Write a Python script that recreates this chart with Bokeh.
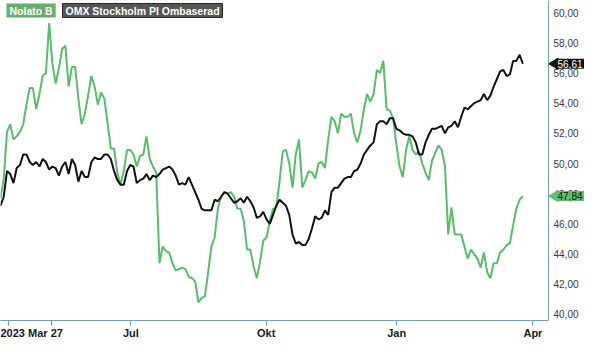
from math import pi
from bokeh.plotting import figure
from bokeh.models import Range1d, FixedTicker, Label, Span, LinearAxis
from bokeh.core.properties import value
from bokeh.embed import file_html
from bokeh.resources import INLINE

# Nolato B share price (SEK), one value per sample
nolato = [47.7, 49.0, 52.1, 52.6, 51.6, 51.8, 52.1, 52.6, 53.9, 55.0,
          55.0, 53.6, 54.6, 55.8, 56.0, 59.3, 56.6, 55.3, 56.3, 57.6,
          57.8, 55.1, 56.4, 56.4, 54.3, 52.6, 53.3, 54.5, 55.8, 55.1,
          53.9, 54.7, 54.3, 52.7, 51.0, 51.0, 49.4, 48.6, 49.5, 50.9,
          50.9, 50.6, 49.8, 50.5, 50.6, 51.8, 50.3, 49.8, 49.4, 43.4,
          44.5, 44.2, 44.1, 43.4, 42.9, 43.0, 43.1, 43.0, 42.5, 42.4,
          42.2, 40.8, 41.1, 41.2, 42.8, 44.5, 45.1, 47.0, 47.8, 48.1,
          48.0, 48.1, 47.8, 47.0, 47.0, 46.2, 44.3, 44.3, 43.2, 42.4,
          43.5, 44.9, 45.1, 46.2, 47.0, 47.1, 48.8, 50.8, 50.9, 50.0,
          48.4, 50.6, 51.6, 48.4, 48.9, 49.5, 49.4, 49.0, 50.0, 50.1,
          49.7, 51.6, 53.1, 52.8, 52.0, 53.3, 53.1, 53.1, 53.3, 52.0,
          51.4, 52.2, 53.6, 54.6, 54.1, 54.6, 56.2, 56.0, 56.8, 53.6,
          53.5, 53.0, 51.3, 49.8, 49.1, 50.9, 51.8, 50.9, 50.6, 50.8,
          50.0, 49.4, 48.9, 50.2, 50.7, 51.2, 50.9, 49.8, 45.3, 47.1,
          45.3, 45.3, 45.3, 44.5, 43.7, 44.3, 44.0, 43.7, 43.1, 44.1,
          42.8, 42.4, 43.4, 43.4, 44.1, 44.3, 44.6, 44.7, 45.9, 47.0,
          47.6, 47.84]

# OMX Stockholm PI, rebased to Nolato's starting level
omx = [47.2, 47.8, 49.5, 49.3, 48.7, 49.7, 49.9, 50.6, 50.6, 50.1,
       49.9, 50.1, 49.8, 50.3, 50.1, 49.6, 49.8, 49.7, 49.2, 49.8,
       50.1, 49.3, 50.3, 49.9, 48.8, 49.5, 49.1, 49.1, 50.1, 50.4,
       50.3, 50.3, 50.6, 50.6, 50.3, 49.5, 48.9, 48.6, 48.6, 49.5,
       49.9, 49.8, 48.7, 48.9, 49.0, 49.3, 48.9, 49.2, 49.1, 49.3,
       49.6, 49.7, 49.8, 49.6, 49.2, 48.6, 48.7, 48.6, 49.1, 48.6,
       48.1, 47.6, 47.0, 46.9, 46.9, 46.9, 47.6, 47.5, 47.8, 48.1,
       48.0, 47.7, 47.4, 47.5, 47.7, 47.4, 47.8, 47.5, 47.1, 46.4,
       46.5, 46.8, 46.3, 46.0, 46.6, 47.2, 47.6, 47.4, 47.2, 46.6,
       45.3, 44.7, 44.8, 44.6, 44.6, 45.0, 45.7, 46.5, 46.3, 46.4,
       46.9, 46.6, 48.1, 48.4, 48.4, 48.7, 49.0, 49.1, 49.1, 49.5,
       49.6, 50.0, 50.6, 50.9, 51.2, 51.4, 52.6, 52.8, 52.8, 52.6,
       53.0, 53.0, 52.3, 52.2, 52.0, 51.9, 51.9, 51.8, 51.4, 50.6,
       50.6, 51.4, 51.9, 52.3, 52.3, 52.4, 52.5, 52.0, 52.4, 52.5,
       52.8, 52.4, 53.1, 53.7, 53.6, 53.8, 54.0, 54.1, 54.2, 54.6,
       54.2, 54.5, 55.1, 55.6, 56.1, 56.2, 55.8, 55.9, 56.8, 56.8,
       57.2, 56.61]

day = list(range(len(nolato)))

# x-axis ticks (in sample units)
tick_pos = [9.3, 40.2, 81.9, 122.1, 164.1]
tick_labels = ["2023 Mar 27", "Jul", "Okt", "Jan", "Apr"]
tick_marks = [2.6, 40.2, 81.9, 122.1, 164.1]
start_mark = 15.6
x_border = 168.9          # right edge of the price area (right axis line)
x_span = [0, 180.0]       # includes the right-axis label strip

y_ticks = [40, 42, 44, 46, 48, 50, 52, 54, 56, 58, 60]
y_labels = [f"{v:.2f}".replace(".", ",") for v in y_ticks]
y_span = [39.6, 60.8]

series_names = ["Nolato B", "OMX Stockholm PI Ombaserad"]

GREEN = "#57bf67"
BLACK = "#111111"
AXIS = "#6f9fc5"
FONT = "Liberation Sans"
FW, FH = 584, 320

p = figure(frame_width=FW, frame_height=FH, output_backend="svg", toolbar_location=None,
           x_range=Range1d(*x_span), y_range=Range1d(*y_span), y_axis_location=None)
p.min_border_left = 0
p.min_border_right = 0
p.min_border_top = 0
p.min_border_bottom = 0
p.outline_line_color = None
p.grid.visible = False
p.background_fill_color = "white"
p.border_fill_color = "white"

# axis 1: line + tick marks (red start marker as the major tick, blue minor ticks)
xa = p.xaxis[0]
xa.bounds = (x_span[0], x_border)
xa.ticker = FixedTicker(ticks=[start_mark], minor_ticks=tick_marks)
xa.major_label_overrides = {start_mark: ""}
xa.major_label_text_font_size = "0px"
xa.major_label_standoff = 0
xa.major_tick_line_color = "#e8555a"
xa.major_tick_out = 5
xa.major_tick_in = 0
xa.minor_tick_line_color = AXIS
xa.minor_tick_out = 5
xa.minor_tick_in = 0
xa.axis_line_color = AXIS

# axis 2: the labels only
xl = LinearAxis(ticker=FixedTicker(ticks=tick_pos, minor_ticks=[]))
xl.major_label_overrides = {t: l for t, l in zip(tick_pos, tick_labels)}
xl.axis_line_color = None
xl.major_tick_line_color = None
xl.minor_tick_line_color = None
xl.major_tick_out = 0
xl.major_tick_in = 0
xl.major_label_standoff = 1
xl.major_label_text_font = FONT
xl.major_label_text_font_style = "bold"
xl.major_label_text_font_size = "11px"
xl.major_label_text_color = "#1a1a1a"
p.add_layout(xl, "below")

# right axis line and its labels
p.add_layout(Span(location=x_border, dimension="height", line_color=AXIS, line_width=1))
p.text(x=[x_border] * len(y_ticks), y=y_ticks, text=y_labels, x_offset=5,
       text_baseline="middle", text_align="left", text_font=value(FONT),
       text_font_size="10px", text_color="#3a3a3a")

p.line(day, nolato, line_color=GREEN, line_width=2)
p.line(day, omx, line_color=BLACK, line_width=2)

# legend tags at top-left
p.add_layout(Label(x=6, y=FH - 3, x_units="screen", y_units="screen", text=series_names[0],
                   text_baseline="top", text_align="left", text_font=FONT, text_font_style="bold",
                   text_font_size="10.5px", text_color="white", background_fill_color="#64ae6a",
                   padding=dict(left=3, right=3, top=1, bottom=1)))
p.add_layout(Label(x=62, y=FH - 3, x_units="screen", y_units="screen", text=series_names[1],
                   text_baseline="top", text_align="left", text_font=FONT, text_font_style="bold",
                   text_font_size="10.5px", text_color="white", background_fill_color="#565656",
                   border_line_color="#2a2a2a", padding=dict(left=3, right=3, top=1, bottom=1)))

# last-value tags at the right axis
last_vals = [omx[-1], nolato[-1]]
tag_fill = ["#111111", "#5fc06c"]
tag_text = ["white", "#111111"]
p.scatter(x=[x_border + 2.0] * 2, y=last_vals, marker="triangle", angle=pi / 2, size=11,
          fill_color=tag_fill, line_color=tag_fill)
for v, f, t in zip(last_vals, tag_fill, tag_text):
    p.add_layout(Label(x=x_border, y=v, x_offset=7, text=f"{v:.2f}".replace(".", ","),
                       text_baseline="middle", text_align="left", text_font=FONT,
                       text_font_size="10px", text_color=t, background_fill_color=f,
                       padding=dict(left=2, right=8, top=1, bottom=1)))

open("out.html", "w").write(file_html(p, INLINE))
